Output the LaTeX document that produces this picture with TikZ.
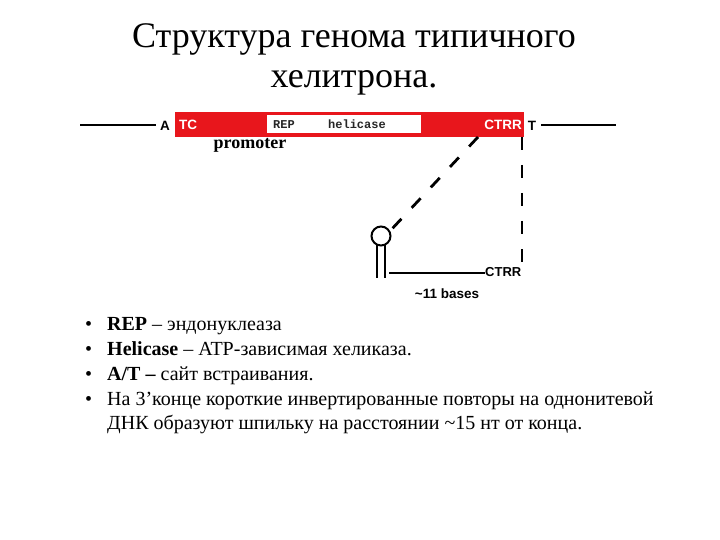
\documentclass[tikz,border=0pt]{standalone}
\usepackage{fontspec}
\setmainfont{Liberation Serif}
\newfontfamily\arialf{Liberation Sans}
\newfontfamily\monof{Liberation Mono}
\definecolor{tered}{RGB}{232,22,28}
\begin{document}
\begin{tikzpicture}[x=1pt,y=-1pt,
  dnaline/.style={line width=2.2pt},
  sanslab/.style={font=\arialf\bfseries\fontsize{13.5}{14}\selectfont, inner sep=0pt, anchor=base},
  monolab/.style={font=\monof\bfseries\fontsize{12}{12}\selectfont, inner sep=0pt, text=black!85, anchor=base},
  dashline/.style={line width=2.8pt, dash pattern=on 13pt off 15pt},
  titletext/.style={font=\fontsize{36}{40}\selectfont, inner sep=0pt, anchor=base},
  bodytext/.style={font=\fontsize{20}{24}\selectfont, inner sep=0pt, anchor=base west}]
\useasboundingbox[fill=white] (0,0) rectangle (720,540);
% title
\node[titletext] (t1) at (354,48) {Структура генома типичного};
\node[titletext] (t2) at (354,88) {хелитрона.};
% element
\node[fill=tered, minimum width=349pt, minimum height=25pt, inner sep=0pt] (te) at (349,124.5) {};
\node[fill=white, minimum width=154pt, minimum height=18pt, inner sep=0pt] (hel) at (344,124.5) {};
\node[monolab] (rep) at (284,128.5) {REP};
\node[monolab] (helc) at (357,128.5) {helicase};
\node[sanslab, text=white] (tc) at (188,130) {TC};
\node[sanslab, text=white] (ctrr) at (503,130) {CTRR};
\node[sanslab] (a) at (165,130.5) {A};
\node[sanslab] (t) at (532,130.5) {T};
\coordinate (l0) at (80,125);
\coordinate (l1) at (156,125);
\coordinate (r0) at (541,125);
\coordinate (r1) at (616,125);
\draw[dnaline] (l0) -- (l1);
\draw[dnaline] (r0) -- (r1);
\node[font=\bfseries\fontsize{18}{18}\selectfont, inner sep=0pt, anchor=base] (prom) at (250,149) {promoter};
% hairpin
\node[circle, draw, line width=2pt, minimum size=19pt, inner sep=0pt] (loop) at (381,236) {};
\coordinate (s1t) at (377,244.5);
\coordinate (s1b) at (377,278);
\coordinate (s2t) at (384.5,244.5);
\coordinate (s2b) at (384.5,278);
\draw[line width=2pt] (s1t) -- (s1b);
\draw[line width=2pt] (s2t) -- (s2b);
\node[font=\arialf\bfseries\fontsize{13}{14}\selectfont, inner sep=0pt, anchor=west] (ctrr2) at (485,272) {CTRR};
\coordinate (h0) at (389,273);
\draw[line width=2pt] (h0) -- (h0 -| ctrr2.west);
\node[font=\arialf\bfseries\fontsize{13.5}{14}\selectfont, inner sep=0pt] (bases) at (447,294) {\textasciitilde11 bases};
% dashed lines
\coordinate (d0) at (478,137);
\coordinate (d1) at (390,231);
\draw[dashline] (d0) -- (d1);
\coordinate (v0) at (522,137);
\coordinate (v1) at (522,265);
\draw[dashline] (v0) -- (v1);
% bullets
\foreach \yy/\nm in {330.5/b1,355/b2,380/b3,405/b4}
  \node[bodytext] (\nm) at (85,\yy) {•};
\node[bodytext] (x1) at (107,330.5) {\textbf{REP} – эндонуклеаза};
\node[bodytext] (x2) at (107,355) {\textbf{Helicase} – ATP-зависимая хеликаза.};
\node[bodytext] (x3) at (107,380) {\textbf{A/T –} сайт встраивания.};
\node[bodytext] (x4) at (107,405) {На 3’конце короткие инвертированные повторы на однонитевой};
\node[bodytext] (x5) at (107,429) {ДНК образуют шпильку на расстоянии \textasciitilde15 нт от конца.};
\end{tikzpicture}
\end{document}
